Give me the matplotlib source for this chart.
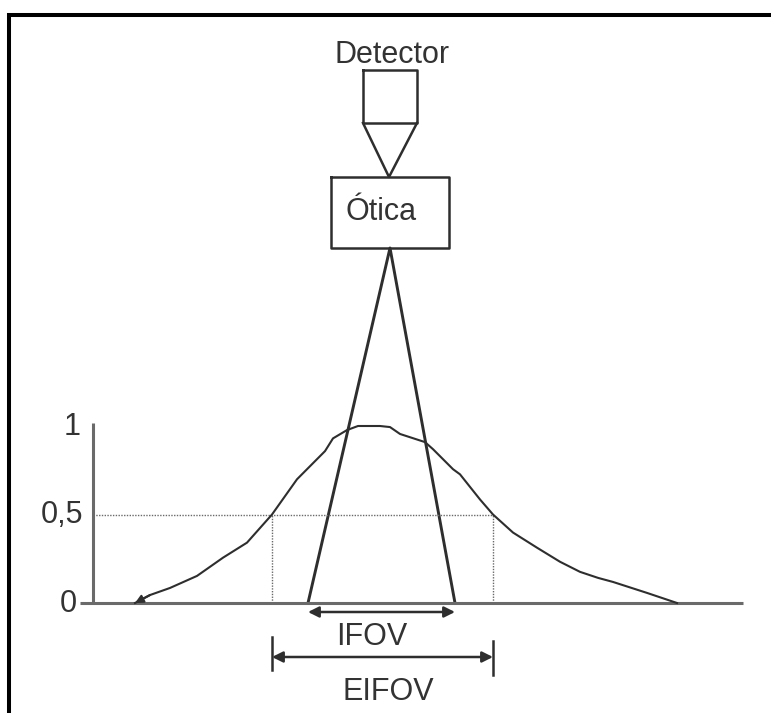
import matplotlib
matplotlib.use("Agg")
import matplotlib.pyplot as plt

plt.rcParams['font.family'] = ['Liberation Sans', 'DejaVu Sans']

# response curve (x in image pixels, y as normalised response)
psf_x = [135, 150, 170, 197, 223, 247, 272, 297, 325, 333, 347, 358, 380, 390,
         400, 425, 433, 453, 460, 480, 493, 513, 537, 560, 580, 598, 613, 647, 677]
psf_y = [0.0, 0.045, 0.085, 0.153, 0.256, 0.341, 0.5, 0.699, 0.858, 0.93, 0.977,
         1.0, 1.0, 0.994, 0.955, 0.909, 0.869, 0.756, 0.727, 0.585, 0.5, 0.398,
         0.3125, 0.233, 0.176, 0.142, 0.119, 0.057, 0.0]

tick_values = [1, 0.5, 0]
tick_labels = ["1", "0,5", "0"]
half_max = 0.5
half_left, half_right = 272, 493      # EIFOV limits
cone_left, cone_right = 308, 455      # IFOV limits

Y_ZERO_PX = 603
UNIT_PX = 177


def yv(p):
    """pixel row -> response units"""
    return (Y_ZERO_PX - p) / UNIT_PX


W, H = 771, 713
fig = plt.figure(figsize=(W / 100, H / 100), dpi=100)
ax = fig.add_axes([0, 0, 1, 1])
ax.set_xlim(0, W)
ax.set_ylim(yv(H), yv(0))
ax.axis('off')

dark = "#2e2e2e"
grey = "#6a6a6a"
txt = "#333333"
fs = 22

# outer frame (only top and left visible)
ax.plot([9, 9, W], [yv(H), yv(15), yv(15)], color="black", lw=2.9,
        solid_joinstyle='miter')

# detector box and cone to optics
ax.plot([363, 417, 417, 363, 363], [yv(70), yv(70), yv(123), yv(123), yv(70)],
        color=dark, lw=1.8)
ax.plot([363, 389, 417], [yv(123), yv(177), yv(123)], color=dark, lw=1.8)
ax.plot([331, 449, 449, 331, 331], [yv(177), yv(177), yv(248), yv(248), yv(177)],
        color=dark, lw=1.8)
ax.text(392, yv(63), "Detector", fontsize=fs, color=txt, ha='center', va='baseline')
ax.text(381, yv(220), "Ótica", fontsize=fs, color=txt, ha='center', va='baseline')

# viewing cone
ax.plot([cone_left, 390, cone_right], [0, yv(248), 0], color=dark, lw=2.1)

# axes
ax.plot([80, 743], [0, 0], color=grey, lw=2.2, solid_capstyle='butt')
ax.plot([93, 93], [0, yv(423)], color=grey, lw=2.2, solid_capstyle='butt')
label_right = [81, 83, 77]
for v, lab, xr in zip(tick_values, tick_labels, label_right):
    ax.text(xr, v - 0.05, lab, fontsize=fs, color=txt, ha='right', va='baseline')

# half-maximum guides
dot = dict(color=grey, lw=1.0, linestyle=(0, (1, 1)))
ax.plot([93, half_right], [half_max, half_max], **dot)
ax.plot([half_left, half_left], [0, half_max], **dot)
ax.plot([half_right, half_right], [0, half_max], **dot)

# response curve
ax.plot(psf_x, psf_y, color=dark, lw=1.5)
ax.annotate("", xy=(psf_x[0], psf_y[0]), xytext=(psf_x[1], psf_y[1]),
            arrowprops=dict(arrowstyle='-|>', color=dark, lw=1.5, mutation_scale=12,
                            shrinkA=0, shrinkB=0))

# IFOV arrow
ax.annotate("", xy=(cone_left, yv(612)), xytext=(cone_right, yv(612)),
            arrowprops=dict(arrowstyle='<|-|>', color=dark, lw=1.8, mutation_scale=16,
                            shrinkA=0, shrinkB=0))
ax.text(372, yv(645), "IFOV", fontsize=fs, color=txt, ha='center', va='baseline')

# EIFOV arrow
ax.plot([half_left, half_left], [yv(637), yv(670)], color=dark, lw=1.8)
ax.plot([half_right, half_right], [yv(641), yv(675)], color=dark, lw=1.8)
ax.annotate("", xy=(half_left, yv(657)), xytext=(half_right, yv(657)),
            arrowprops=dict(arrowstyle='<|-|>', color=dark, lw=1.8, mutation_scale=16,
                            shrinkA=0, shrinkB=0))
ax.text(388, yv(700), "EIFOV", fontsize=fs, color=txt, ha='center', va='baseline')

fig.savefig("out.png", dpi=100)
